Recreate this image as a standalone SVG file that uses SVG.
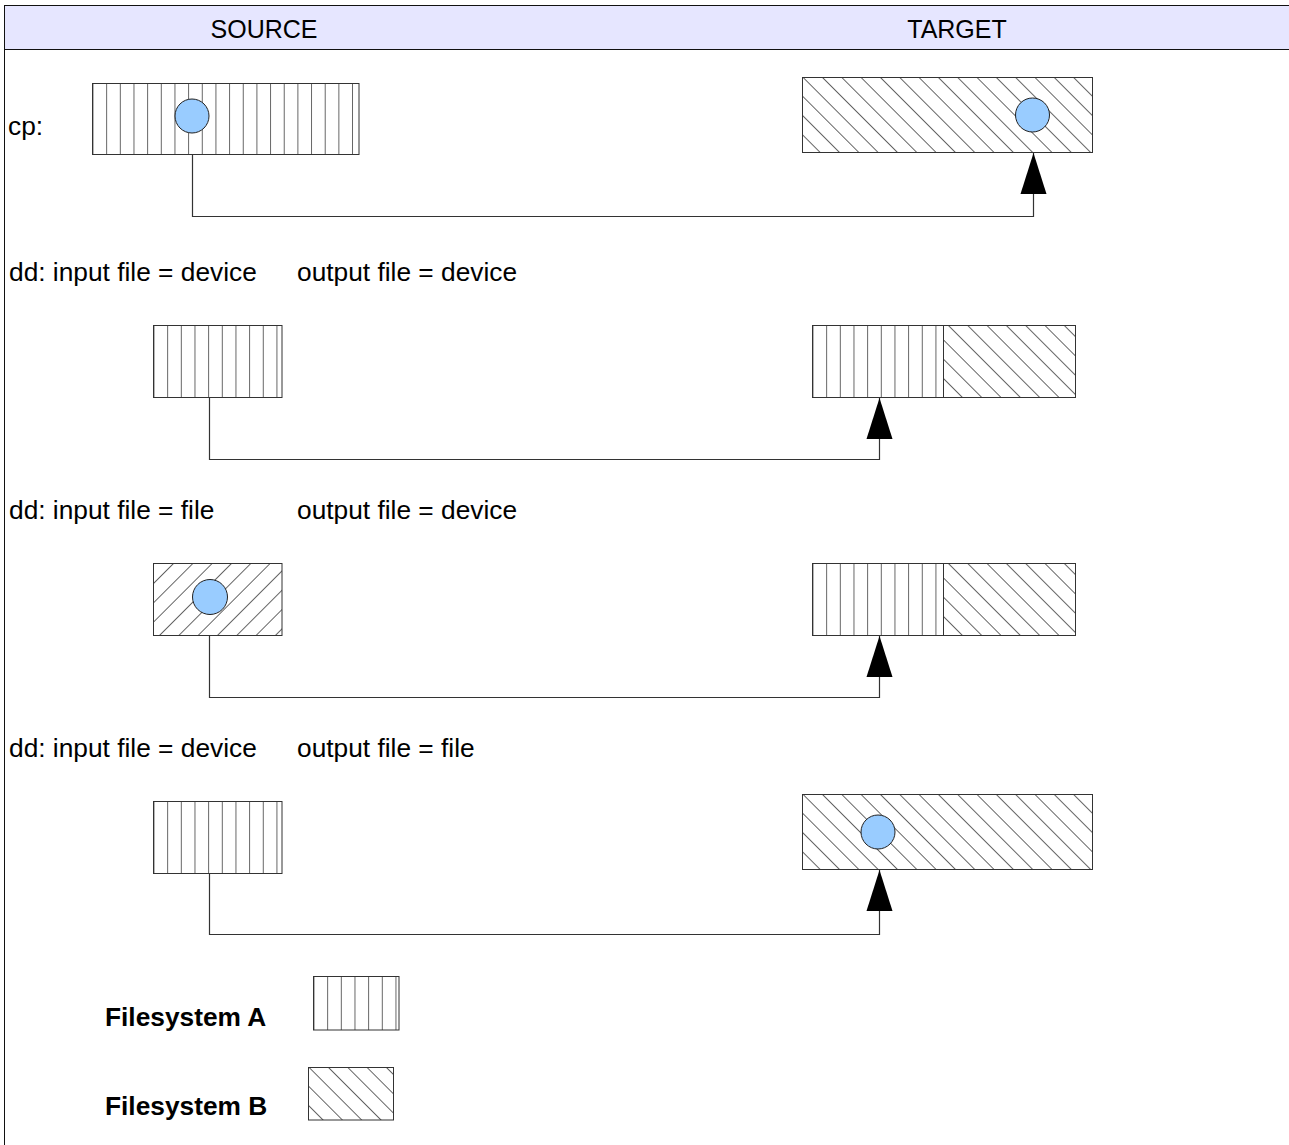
<svg xmlns="http://www.w3.org/2000/svg" width="1289" height="1145" viewBox="0 0 1289 1145">
<defs>
<pattern id="fsA" patternUnits="userSpaceOnUse" width="13.66" height="20">
<line x1="0" y1="0" x2="0" y2="20" stroke="#000" stroke-width="1.2"/>
</pattern>
<pattern id="fsB" patternUnits="userSpaceOnUse" width="13.66" height="20" patternTransform="rotate(-45)">
<line x1="0" y1="0" x2="0" y2="20" stroke="#000" stroke-width="1.2"/>
</pattern>
<pattern id="fsS" patternUnits="userSpaceOnUse" width="13.66" height="20" patternTransform="rotate(45)">
<line x1="0" y1="0" x2="0" y2="20" stroke="#000" stroke-width="1.2"/>
</pattern>
<marker id="arr" markerUnits="userSpaceOnUse" markerWidth="42" markerHeight="28" refX="41" refY="14" orient="auto" viewBox="0 0 42 28">
<path d="M41,14 L0,1 L0,27 Z" fill="#000"/>
</marker>
</defs>
<style>
.h{font-family:"Liberation Sans",Arial,sans-serif;font-size:25px;fill:#000}
.t{font-family:"Liberation Sans",Arial,sans-serif;font-size:26.3px;fill:#000}
.b{font-family:"Liberation Sans",Arial,sans-serif;font-size:26.3px;font-weight:bold;fill:#000}
.box{stroke:#333;stroke-width:1}
.dot{fill:#99ccff;stroke:#222;stroke-width:1}
.conn{fill:none;stroke:#333;stroke-width:1.2}
</style>
<g id="frame">
<rect x="4.5" y="5.5" width="1290" height="44" fill="#e6e6ff" stroke="#111" stroke-width="1"/>
<line x1="4.5" y1="5" x2="4.5" y2="1145" stroke="#111" stroke-width="1"/>
<text class="h" x="264" y="38" text-anchor="middle">SOURCE</text>
<text class="h" x="957" y="38" text-anchor="middle">TARGET</text>
</g>
<g id="labels">
<text class="t" x="8" y="135">cp:</text>
<text class="t" x="9" y="281">dd: input file = device</text>
<text class="t" x="297" y="281">output file = device</text>
<text class="t" x="9" y="519">dd: input file = file</text>
<text class="t" x="297" y="519">output file = device</text>
<text class="t" x="9" y="757">dd: input file = device</text>
<text class="t" x="297" y="757">output file = file</text>
</g>
<g id="cp-source" transform="translate(92.5,83.5)">
<rect class="box" width="266.5" height="71" fill="url(#fsA)"/>
<circle class="dot" cx="99.5" cy="32.5" r="17"/>
</g>
<g id="cp-target" transform="translate(802.5,77.5)">
<rect class="box" width="290" height="75" fill="url(#fsB)"/>
<circle class="dot" cx="230" cy="37.5" r="17"/>
</g>
<g id="dd1-source" transform="translate(153.5,325.5)">
<rect class="box" width="128.5" height="72" fill="url(#fsA)"/>
</g>
<g id="dd1-target" transform="translate(812.5,325.5)">
<rect class="box" width="131" height="72" fill="url(#fsA)"/>
<rect class="box" x="131" width="132" height="72" fill="url(#fsB)"/>
</g>
<g id="dd2-source" transform="translate(153.5,563.5)">
<rect class="box" width="128.5" height="72" fill="url(#fsS)"/>
<circle class="dot" cx="56.5" cy="33.5" r="17.5"/>
</g>
<g id="dd2-target" transform="translate(812.5,563.5)">
<rect class="box" width="131" height="72" fill="url(#fsA)"/>
<rect class="box" x="131" width="132" height="72" fill="url(#fsB)"/>
</g>
<g id="dd3-source" transform="translate(153.5,801.5)">
<rect class="box" width="128.5" height="72" fill="url(#fsA)"/>
</g>
<g id="dd3-target" transform="translate(802.5,794.5)">
<rect class="box" width="290" height="75" fill="url(#fsB)"/>
<circle class="dot" cx="75.5" cy="37.5" r="17"/>
</g>
<g id="connectors">
<path class="conn" d="M192.5,154 V216.5 H1033.5 V153" marker-end="url(#arr)"/>
<path class="conn" d="M209.5,398 V459.5 H879.5 V398" marker-end="url(#arr)"/>
<path class="conn" d="M209.5,636 V697.5 H879.5 V636" marker-end="url(#arr)"/>
<path class="conn" d="M209.5,874 V934.5 H879.5 V870" marker-end="url(#arr)"/>
</g>
<g id="legend-a">
<text class="b" x="105" y="1026">Filesystem A</text>
<g transform="translate(313.5,976.5)">
<rect class="box" width="85.5" height="53.5" fill="url(#fsA)"/>
</g>
</g>
<g id="legend-b">
<text class="b" x="105" y="1115">Filesystem B</text>
<g transform="translate(308.5,1067.5)">
<rect class="box" width="85" height="52.5" fill="url(#fsB)"/>
</g>
</g>
</svg>
